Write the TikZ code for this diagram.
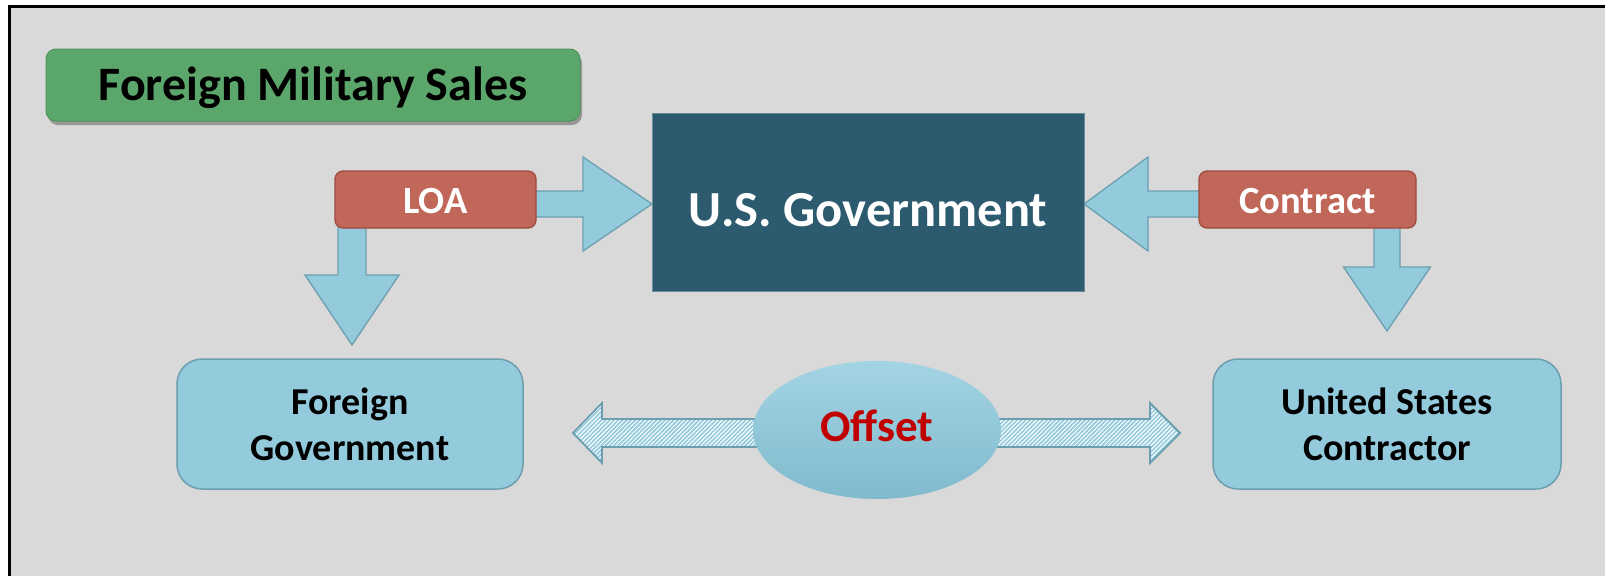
\documentclass[tikz,border=0pt]{standalone}
\usepackage{fontspec}
\setmainfont{Carlito}
\usetikzlibrary{calc,shapes.geometric,patterns.meta,shadows}
\definecolor{bgray}{HTML}{D9D9D9}
\definecolor{tgreen}{HTML}{5BA66B}
\definecolor{tgreenD}{HTML}{4F9560}
\definecolor{lred}{HTML}{C0675A}
\definecolor{lredD}{HTML}{9E4B40}
\definecolor{usgblue}{HTML}{2C5A6E}
\definecolor{usgedge}{HTML}{6A8C9A}
\definecolor{lblue}{HTML}{93CBDD}
\definecolor{lblueD}{HTML}{6B9FAF}
\definecolor{offtop}{HTML}{A3D4E4}
\definecolor{offbot}{HTML}{80BACD}
\definecolor{offred}{HTML}{C00000}
\pgfdeclarelayer{back}
\pgfdeclarelayer{arrows}
\pgfsetlayers{back,arrows,main}
\begin{document}
\begin{tikzpicture}[x=1pt,y=-1pt,
  every node/.style={inner sep=0pt, outer sep=0pt},
  titlebox/.style={rounded corners=10pt, fill=tgreen, draw=tgreenD, line width=1pt,
    minimum width=534pt, minimum height=72pt, text=black,
    font=\fontsize{48}{58}\selectfont\bfseries, text height=31.9pt, text depth=0pt,
    drop shadow={shadow xshift=2pt, shadow yshift=-4pt, opacity=0.3, fill=black}},
  usgbox/.style={fill=usgblue, draw=usgedge, line width=1pt,
    minimum width=432pt, minimum height=178pt, text=white,
    font=\fontsize{50.5}{60}\selectfont\bfseries, text height=48.5pt, text depth=0pt},
  redbox/.style={rounded corners=8pt, fill=lred, draw=lredD, line width=1.3pt,
    minimum height=57pt, text=white,
    font=\fontsize{38.5}{46}\selectfont\bfseries, text height=28.8pt, text depth=0pt},
  partybox/.style={rounded corners=25pt, fill=lblue, draw=lblueD, line width=1.5pt,
    minimum height=130pt, text=black, align=center,
    font=\fontsize{38}{46}\selectfont\bfseries},
  offsetell/.style={ellipse, top color=offtop, bottom color=offbot, draw=none,
    minimum width=248pt, minimum height=138pt, text=offred,
    font=\fontsize{45}{54}\selectfont\bfseries, text height=29pt, text depth=6pt},
  barrow/.style={fill=lblue, draw=lblueD, line width=1.3pt, line join=miter},
  darrow/.style={preaction={fill=white}, pattern={Lines[angle=45,distance=3pt,line width=1.7pt]},
    pattern color=lblue, draw=lblueD, line width=1.8pt, line join=miter}
]
\useasboundingbox (0,0) rectangle (1605,576);
\begin{pgfonlayer}{back}
  \fill[white] (0,0) rectangle (1605,576);
  \fill[bgray] (9,5) rectangle (1605,576);
  \draw[black, line width=3pt] (1605,6.5) -- (9.5,6.5) -- (9.5,576);
\end{pgfonlayer}

\node[titlebox] (title) at (313,85) {Foreign Military Sales};
\node[usgbox] (usg) at (868,202) {U.S. Government};
\node[redbox, minimum width=201pt] (loa) at (435.5,199.5) {LOA};
\node[redbox, minimum width=217pt] (ct) at (1307.5,199.5) {Contract};
\node[partybox, minimum width=346pt] (fg) at (350,424) {Foreign\\Government};
\node[partybox, minimum width=348pt] (uc) at (1387,424) {United States\\Contractor};
\node[offsetell] (off) at (877,430) {Offset};

\begin{pgfonlayer}{arrows}
  \path ($(loa.east)+(-5,4.5)$) coordinate (b1)
        ($(loa.south west)+(17,-8)$) coordinate (b2)
        ($(fg.north)+(2,-14)$) coordinate (t2)
        ($(ct.west)+(5,4.5)$) coordinate (b3)
        ($(ct.south east)+(-29,-8)$) coordinate (b4)
        ($(uc.north)+(0,-28)$) coordinate (t4)
        ($(fg.east)+(50,9)$) coordinate (dl)
        ($(uc.west)+(-33,9)$) coordinate (dr);
  % LOA -> U.S. Government
  \draw[barrow] ($(b1)+(0,-13)$) -- ++(52,0) -- ++(0,-34) -- (usg.west |- b1)
     -- ($(b1)+(52,47)$) -- ++(0,-34) -- ($(b1)+(0,13)$) -- cycle;
  % LOA -> Foreign Government
  \draw[barrow] ($(b2)+(-14,0)$) -- ($(b2)+(-14,55)$) -- ($(b2)+(-47,55)$) -- (t2)
     -- ($(b2)+(47,55)$) -- ($(b2)+(14,55)$) -- ($(b2)+(14,0)$) -- cycle;
  % Contract -> U.S. Government
  \draw[barrow] ($(b3)+(0,-13)$) -- ++(-56,0) -- ++(0,-34) -- (usg.east |- b3)
     -- ($(b3)+(-56,47)$) -- ++(0,-34) -- ($(b3)+(0,13)$) -- cycle;
  % Contract -> United States Contractor
  \draw[barrow] ($(b4)+(-13,0)$) -- ($(b4)+(-13,47)$) -- ($(b4)+(-43.5,47)$) -- (t4)
     -- ($(b4)+(43.5,47)$) -- ($(b4)+(13,47)$) -- ($(b4)+(13,0)$) -- cycle;
  % Offset double arrow
  \path[darrow] (dl) -- ($(dl)+(29,-30)$) -- ($(dl)+(29,-14)$) -- ($(dr)+(-30,-14)$)
     -- ($(dr)+(-30,-30)$) -- (dr) -- ($(dr)+(-30,30)$) -- ($(dr)+(-30,14)$)
     -- ($(dl)+(29,14)$) -- ($(dl)+(29,30)$) -- cycle;
\end{pgfonlayer}
\end{tikzpicture}
\end{document}
